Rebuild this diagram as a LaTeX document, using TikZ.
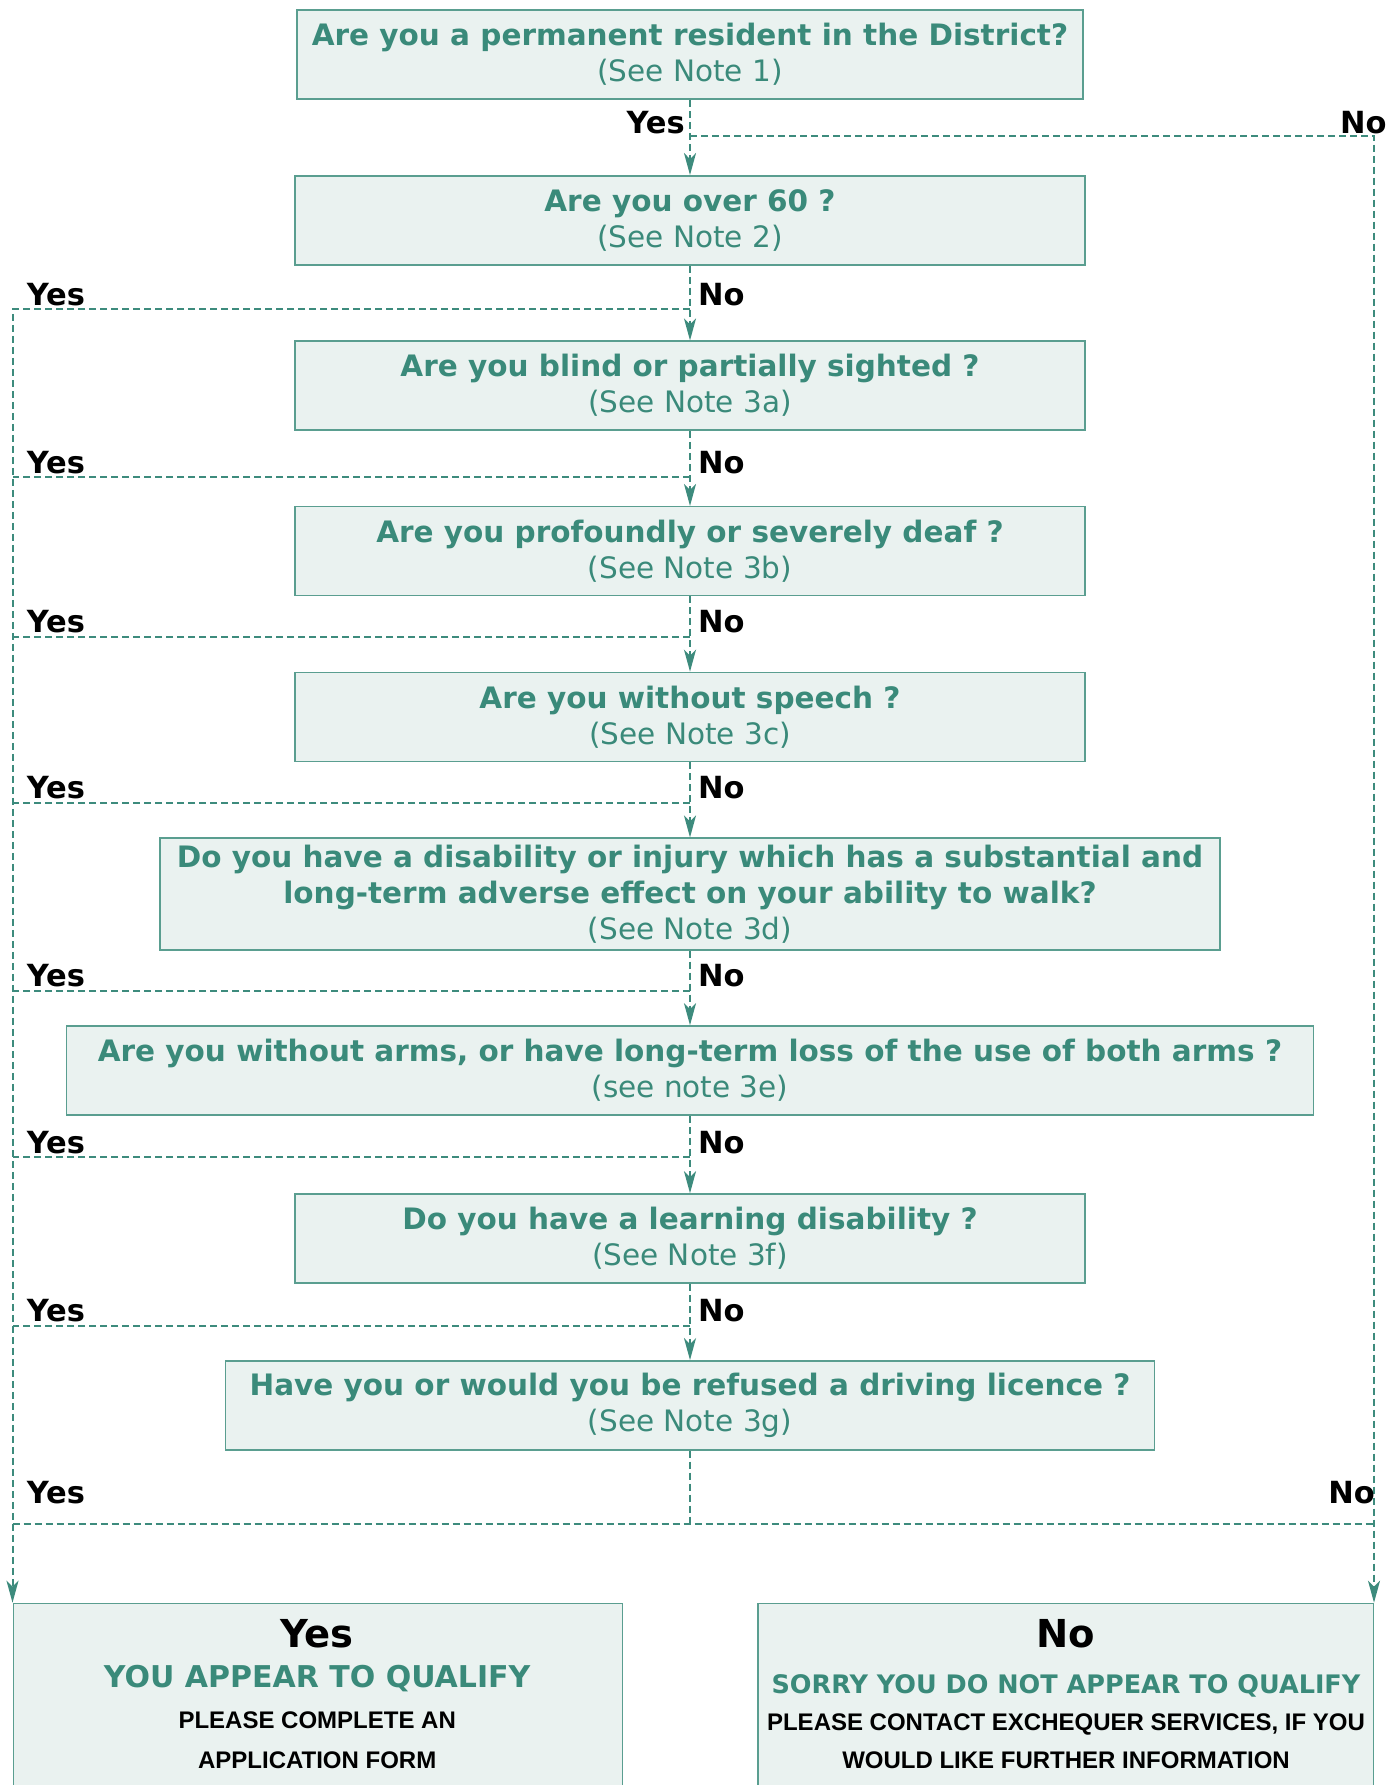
\documentclass[tikz,border=0pt]{standalone}
\usepackage{fontspec}
\setmainfont{DejaVu Sans}
\newfontfamily\libsans{Liberation Sans}
\usetikzlibrary{arrows.meta}
\definecolor{tealtext}{HTML}{3A8A7A}
\definecolor{boxfill}{HTML}{EAF2F0}
\definecolor{boxline}{HTML}{5A9E90}
\definecolor{linkcol}{HTML}{3D8B7D}
\newcommand\qlines[2]{\textbf{#1}\\#2}
\begin{document}
\begin{tikzpicture}[x=1pt,y=-1pt,
  qbox/.style={draw=boxline, fill=boxfill, line width=1.5pt, inner sep=0pt,
    minimum height=89pt, align=center, text=tealtext,
    font=\fontsize{29.5}{36}\selectfont},
  endbox/.style={draw=boxline, fill=boxfill, line width=1.5pt, inner sep=0pt,
    minimum height=320pt},
  lab/.style={font=\fontsize{30.5}{34}\selectfont\bfseries, inner sep=0pt},
  bigtxt/.style={anchor=base, inner sep=0pt, font=\fontsize{38.5}{38.5}\selectfont\bfseries},
  greentxt/.style={anchor=base, inner sep=0pt, text=tealtext},
  capstxt/.style={anchor=base, inner sep=0pt, font=\libsans\fontsize{24}{24}\selectfont\bfseries},
  link/.style={draw=linkcol, line width=2pt, dash pattern=on 7pt off 4pt},
  arr/.style={link, -{Stealth[length=22pt,width=12pt,inset=6pt]}}]
\useasboundingbox (0,0) rectangle (1395,1785);
\clip (0,0) rectangle (1395,1785);

% question boxes
\node[qbox, minimum width=786pt] (q1) at (690,54.7) {\qlines{Are you a permanent resident in the District?}{(See Note 1)}};
\node[qbox, minimum width=790pt] (q2) at (690,220.3) {\qlines{Are you over 60 ?}{(See Note 2)}};
\node[qbox, minimum width=790pt] (q3) at (690,385.7) {\qlines{Are you blind or partially sighted ?}{(See Note 3a)}};
\node[qbox, minimum width=790pt] (q4) at (690,551.2) {\qlines{Are you profoundly or severely deaf ?}{(See Note 3b)}};
\node[qbox, minimum width=790pt] (q5) at (690,716.9) {\qlines{Are you without speech ?}{(See Note 3c)}};
\node[qbox, minimum width=1060pt, minimum height=111.6pt] (q6) at (690,894) {\textbf{Do you have a disability or injury which has a substantial and}\\\textbf{long-term adverse effect on your ability to walk?}\\(See Note 3d)};
\node[qbox, minimum width=1247pt] (q7) at (690,1070.5) {\qlines{Are you without arms, or have long-term loss of the use of both arms ?}{(see note 3e)}};
\node[qbox, minimum width=790pt] (q8) at (690,1238.5) {\qlines{Do you have a learning disability ?}{(See Note 3f)}};
\node[qbox, minimum width=929pt] (q9) at (690,1405.3) {\qlines{Have you or would you be refused a driving licence ?}{(See Note 3g)}};

% result boxes
\node[endbox, minimum width=609.3pt, anchor=north west] (yesbox) at (12.5,1602.7) {};
\node[endbox, minimum width=615.5pt, anchor=north east] (nobox) at (1374,1602.7) {};

\node[bigtxt] (yt) at (317.2,1647.7) {Yes};
\node[greentxt, font=\fontsize{30}{30}\selectfont\bfseries] (ya) at (317.2,1687.7) {YOU APPEAR TO QUALIFY};
\node[capstxt] (yb) at (317.2,1728.3) {PLEASE COMPLETE AN};
\node[capstxt] (yc) at (317.2,1768.3) {APPLICATION FORM};

\node[bigtxt] (nt) at (1066,1647.7) {No};
\node[greentxt, font=\fontsize{25.5}{25.5}\selectfont\bfseries] (na) at (1066,1693.3) {SORRY YOU DO NOT APPEAR TO QUALIFY};
\node[capstxt] (nb) at (1066,1730.7) {PLEASE CONTACT EXCHEQUER SERVICES, IF YOU};
\node[capstxt] (nc) at (1066,1768.3) {WOULD LIKE FURTHER INFORMATION};

% main spine
\draw[arr] (q1.south) -- (q2.north);
\draw[arr] (q2.south) -- (q3.north);
\draw[arr] (q3.south) -- (q4.north);
\draw[arr] (q4.south) -- (q5.north);
\draw[arr] (q5.south) -- (q6.north);
\draw[arr] (q6.south) -- (q7.north);
\draw[arr] (q7.south) -- (q8.north);
\draw[arr] (q8.south) -- (q9.north);
\draw[link] (q9.south) -- (q9.south |- 0,1524);

% No branch (right)
\draw[arr] (q1.south |- 0,135.7) -| (nobox.north east);
% Yes branches (left)
\draw[arr] (q2.south |- 0,309.3) -| (yesbox.north west);
\draw[link] (q3.south |- 0,477.3) -- (yesbox.north west |- 0,477.3);
\draw[link] (q4.south |- 0,636.6) -- (yesbox.north west |- 0,636.6);
\draw[link] (q5.south |- 0,802.9) -- (yesbox.north west |- 0,802.9);
\draw[link] (q6.south |- 0,990.8) -- (yesbox.north west |- 0,990.8);
\draw[link] (q7.south |- 0,1157) -- (yesbox.north west |- 0,1157);
\draw[link] (q8.south |- 0,1325.6) -- (yesbox.north west |- 0,1325.6);
\draw[link] (yesbox.north west |- 0,1524) -- (nobox.north east |- 0,1524);

% labels
\node[lab, anchor=base east] (l1y) at (685,133.3) {Yes};
\node[lab, anchor=base east] (l1n) at (1386.7,133.3) {No};
\foreach \yy [count=\i] in {309.3,477.3,636.6,802.9,990.8,1157,1325.6}{
  \node[lab, anchor=base west] (ly\i) at (26.7,\yy-4) {Yes};
  \node[lab, anchor=base west] (ln\i) at (698,\yy-4) {No};
}
\node[lab, anchor=base west] (lby) at (26.7,1503.3) {Yes};
\node[lab, anchor=base east] (lbn) at (1375,1503.3) {No};
\end{tikzpicture}
\end{document}
